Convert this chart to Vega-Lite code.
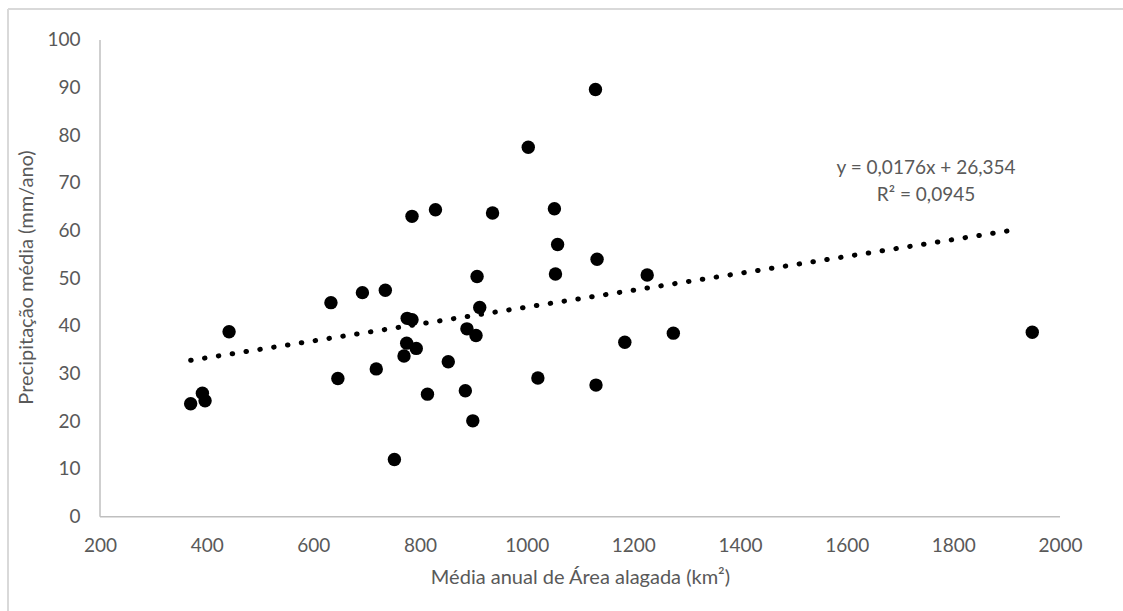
{
  "$schema": "https://vega.github.io/schema/vega-lite/v6.json",
  "width": 1115,
  "height": 602,
  "autosize": {"type": "none"},
  "padding": {"left": 8, "top": 9, "right": 0, "bottom": 0},
  "background": "white",
  "config": {
    "view": {"stroke": null},
    "axis": {
      "labelFont": "Lato",
      "labelFontSize": 19,
      "labelColor": "#595959",
      "titleFont": "Lato",
      "titleFontSize": 20,
      "titleFontWeight": "normal",
      "titleColor": "#595959",
      "domain": false,
      "ticks": false,
      "tickSize": 0,
      "grid": false,
      "labelFlush": false,
      "labelOverlap": false
    }
  },
  "datasets": {
    "pontos": [
      {"area": 370, "precip": 23.7},
      {"area": 392, "precip": 25.9},
      {"area": 397, "precip": 24.3},
      {"area": 442, "precip": 38.8},
      {"area": 633, "precip": 44.9},
      {"area": 646, "precip": 29.0},
      {"area": 752, "precip": 12.0},
      {"area": 1003, "precip": 77.5},
      {"area": 785, "precip": 63.0},
      {"area": 829, "precip": 64.4},
      {"area": 936, "precip": 63.7},
      {"area": 1052, "precip": 64.6},
      {"area": 1058, "precip": 57.1},
      {"area": 1132, "precip": 54.0},
      {"area": 1054, "precip": 50.9},
      {"area": 1226, "precip": 50.7},
      {"area": 907, "precip": 50.4},
      {"area": 692, "precip": 47.0},
      {"area": 735, "precip": 47.5},
      {"area": 912, "precip": 43.9},
      {"area": 776, "precip": 41.6},
      {"area": 785, "precip": 41.3},
      {"area": 888, "precip": 39.4},
      {"area": 905, "precip": 38.0},
      {"area": 775, "precip": 36.4},
      {"area": 793, "precip": 35.3},
      {"area": 770, "precip": 33.7},
      {"area": 718, "precip": 31.0},
      {"area": 853, "precip": 32.5},
      {"area": 1275, "precip": 38.5},
      {"area": 1184, "precip": 36.6},
      {"area": 1021, "precip": 29.1},
      {"area": 1130, "precip": 27.6},
      {"area": 814, "precip": 25.7},
      {"area": 885, "precip": 26.4},
      {"area": 899, "precip": 20.1},
      {"area": 1129, "precip": 89.6},
      {"area": 1948, "precip": 38.7}
    ],
    "tendencia": [
      {"area": 370, "precip": 32.8},
      {"area": 1922, "precip": 60.3}
    ],
    "um": [{}]
  },
  "layer": [
    {
      "data": {"name": "um"},
      "mark": {"type": "rule", "color": "#d9d9d9", "strokeWidth": 2},
      "encoding": {
        "x": {"datum": 27.5, "type": "quantitative", "scale": {"domain": [27.5, 2118.1], "nice": false, "zero": false},
          "axis": {"title": "Média anual de Área alagada (km²)", "values": [200, 400, 600, 800, 1000, 1200, 1400, 1600, 1800, 2000], "format": "d", "offset": -94.3, "labelPadding": 20, "titlePadding": 12, "titleX": 572}}
      }
    },
    {
      "data": {"name": "um"},
      "mark": {"type": "rule", "color": "#d9d9d9", "strokeWidth": 2},
      "encoding": {
        "y": {"datum": 106.5, "type": "quantitative", "scale": {"domain": [-19.79, 106.5], "nice": false, "zero": false},
          "axis": {"title": "Precipitação média (mm/ano)", "values": [0, 10, 20, 30, 40, 50, 60, 70, 80, 90, 100], "offset": -92, "labelPadding": 20, "titlePadding": 10, "titleY": 268}}
      }
    },
    {
      "data": {"name": "um"},
      "mark": {"type": "rule", "color": "#bfbfbf", "strokeWidth": 1.5},
      "encoding": {
        "x": {"datum": 200, "type": "quantitative", "scale": {"domain": [27.5, 2118.1], "nice": false, "zero": false},
          "axis": {"title": "Média anual de Área alagada (km²)", "values": [200, 400, 600, 800, 1000, 1200, 1400, 1600, 1800, 2000], "format": "d", "offset": -94.3, "labelPadding": 20, "titlePadding": 12, "titleX": 572}},
        "y": {"datum": 0, "type": "quantitative", "scale": {"domain": [-19.79, 106.5], "nice": false, "zero": false},
          "axis": {"title": "Precipitação média (mm/ano)", "values": [0, 10, 20, 30, 40, 50, 60, 70, 80, 90, 100], "offset": -92, "labelPadding": 20, "titlePadding": 10, "titleY": 268}},
        "y2": {"datum": 100}
      }
    },
    {
      "data": {"name": "um"},
      "mark": {"type": "rule", "color": "#bfbfbf", "strokeWidth": 1.5},
      "encoding": {
        "x": {"datum": 200, "type": "quantitative", "scale": {"domain": [27.5, 2118.1], "nice": false, "zero": false},
          "axis": {"title": "Média anual de Área alagada (km²)", "values": [200, 400, 600, 800, 1000, 1200, 1400, 1600, 1800, 2000], "format": "d", "offset": -94.3, "labelPadding": 20, "titlePadding": 12, "titleX": 572}},
        "x2": {"datum": 2000},
        "y": {"datum": 0, "type": "quantitative", "scale": {"domain": [-19.79, 106.5], "nice": false, "zero": false},
          "axis": {"title": "Precipitação média (mm/ano)", "values": [0, 10, 20, 30, 40, 50, 60, 70, 80, 90, 100], "offset": -92, "labelPadding": 20, "titlePadding": 10, "titleY": 268}}
      }
    },
    {
      "data": {"name": "tendencia"},
      "mark": {"type": "line", "color": "black", "strokeWidth": 5, "strokeCap": "round", "strokeDash": [0.5, 13.5]},
      "encoding": {
        "x": {"field": "area", "type": "quantitative", "scale": {"domain": [27.5, 2118.1], "nice": false, "zero": false},
          "axis": {"title": "Média anual de Área alagada (km²)", "values": [200, 400, 600, 800, 1000, 1200, 1400, 1600, 1800, 2000], "format": "d", "offset": -94.3, "labelPadding": 20, "titlePadding": 12, "titleX": 572}},
        "y": {"field": "precip", "type": "quantitative", "scale": {"domain": [-19.79, 106.5], "nice": false, "zero": false},
          "axis": {"title": "Precipitação média (mm/ano)", "values": [0, 10, 20, 30, 40, 50, 60, 70, 80, 90, 100], "offset": -92, "labelPadding": 20, "titlePadding": 10, "titleY": 268}}
      }
    },
    {
      "data": {"name": "pontos"},
      "mark": {"type": "circle", "color": "black", "opacity": 1, "size": 180},
      "encoding": {
        "x": {"field": "area", "type": "quantitative", "scale": {"domain": [27.5, 2118.1], "nice": false, "zero": false},
          "axis": {"title": "Média anual de Área alagada (km²)", "values": [200, 400, 600, 800, 1000, 1200, 1400, 1600, 1800, 2000], "format": "d", "offset": -94.3, "labelPadding": 20, "titlePadding": 12, "titleX": 572}},
        "y": {"field": "precip", "type": "quantitative", "scale": {"domain": [-19.79, 106.5], "nice": false, "zero": false},
          "axis": {"title": "Precipitação média (mm/ano)", "values": [0, 10, 20, 30, 40, 50, 60, 70, 80, 90, 100], "offset": -92, "labelPadding": 20, "titlePadding": 10, "titleY": 268}}
      }
    },
    {
      "data": {"name": "um"},
      "mark": {"type": "text", "font": "Lato", "fontSize": 19, "color": "#595959", "align": "center", "baseline": "middle", "text": "y = 0,0176x + 26,354"},
      "encoding": {
        "x": {"datum": 1748.75, "type": "quantitative", "scale": {"domain": [27.5, 2118.1], "nice": false, "zero": false},
          "axis": {"title": "Média anual de Área alagada (km²)", "values": [200, 400, 600, 800, 1000, 1200, 1400, 1600, 1800, 2000], "format": "d", "offset": -94.3, "labelPadding": 20, "titlePadding": 12, "titleX": 572}},
        "y": {"datum": 73.08, "type": "quantitative", "scale": {"domain": [-19.79, 106.5], "nice": false, "zero": false},
          "axis": {"title": "Precipitação média (mm/ano)", "values": [0, 10, 20, 30, 40, 50, 60, 70, 80, 90, 100], "offset": -92, "labelPadding": 20, "titlePadding": 10, "titleY": 268}}
      }
    },
    {
      "data": {"name": "um"},
      "mark": {"type": "text", "font": "Lato", "fontSize": 19, "color": "#595959", "align": "center", "baseline": "middle", "text": "R² = 0,0945"},
      "encoding": {
        "x": {"datum": 1748.75, "type": "quantitative", "scale": {"domain": [27.5, 2118.1], "nice": false, "zero": false},
          "axis": {"title": "Média anual de Área alagada (km²)", "values": [200, 400, 600, 800, 1000, 1200, 1400, 1600, 1800, 2000], "format": "d", "offset": -94.3, "labelPadding": 20, "titlePadding": 12, "titleX": 572}},
        "y": {"datum": 67.48, "type": "quantitative", "scale": {"domain": [-19.79, 106.5], "nice": false, "zero": false},
          "axis": {"title": "Precipitação média (mm/ano)", "values": [0, 10, 20, 30, 40, 50, 60, 70, 80, 90, 100], "offset": -92, "labelPadding": 20, "titlePadding": 10, "titleY": 268}}
      }
    }
  ]
}
